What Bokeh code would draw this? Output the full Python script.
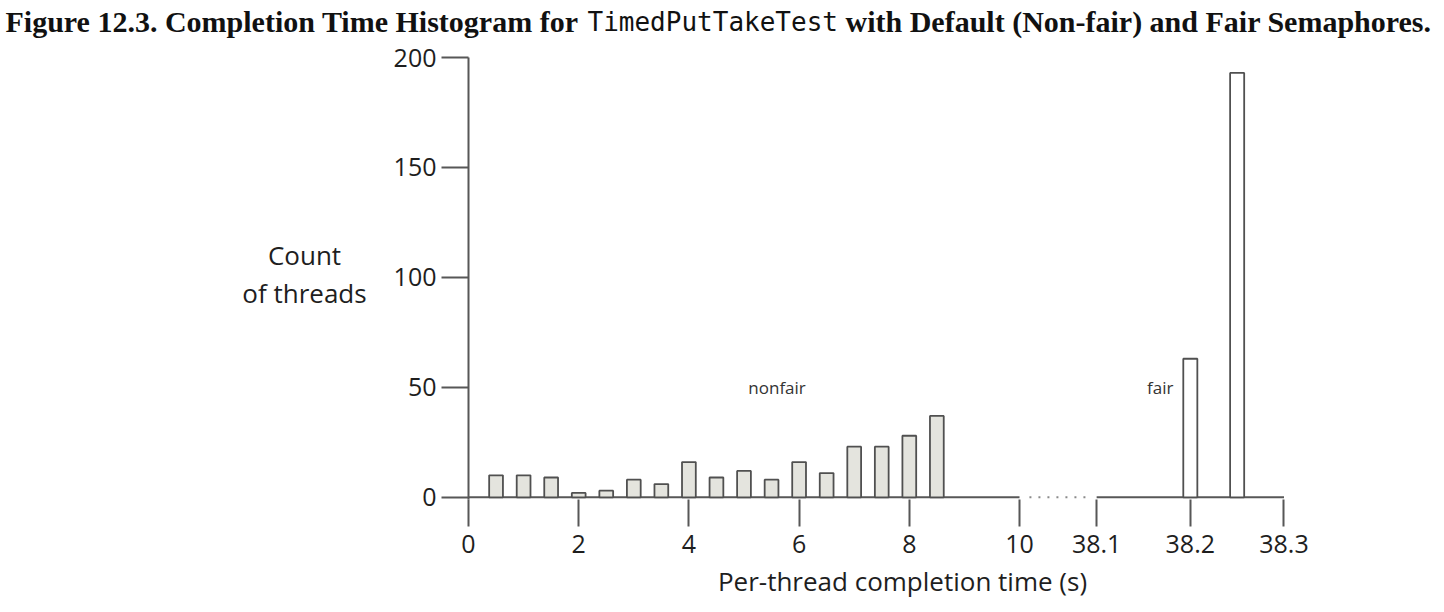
from bokeh.plotting import figure
from bokeh.models import Range1d, FixedTicker, Label
from bokeh.layouts import row
from bokeh.embed import file_html
from bokeh.resources import INLINE

# ---------------- data ----------------
nonfair_times = [0.5, 1.0, 1.5, 2.0, 2.5, 3.0, 3.5, 4.0, 4.5, 5.0, 5.5, 6.0, 6.5, 7.0, 7.5, 8.0, 8.5]
nonfair_counts = [10, 10, 9, 2, 3, 8, 6, 16, 9, 12, 8, 16, 11, 23, 23, 28, 37]
fair_times = [38.20, 38.25]
fair_counts = [63, 193]
nonfair_bin_width = 0.25
fair_bin_width = 0.015

y_ticks = [0, 50, 100, 150, 200]
x_ticks_low = [0, 2, 4, 6, 8, 10]
x_tick_labels_low = ["0", "2", "4", "6", "8", "10"]
x_ticks_high = [38.1, 38.2, 38.3]
x_tick_labels_high = ["38.1", "38.2", "38.3"]

title_parts = ["Figure 12.3. Completion Time Histogram for", "TimedPutTakeTest",
               "with Default (Non-fair) and Fair Semaphores."]
y_label_lines = ["Count", "of threads"]
x_label = "Per-thread completion time (s)"

# ---------------- broken x axis ----------------
LOW_END = 10.0
HIGH_START = 38.1
HIGH_END = 38.3
HIGH_OFFSET = 11.4   # axis position of 38.1
HIGH_SCALE = 17.0    # axis units per second in the high segment


def axis_pos(t):
    if t <= LOW_END:
        return t
    return round(HIGH_OFFSET + (t - HIGH_START) * HIGH_SCALE, 6)


AXIS_COLOR = "#575757"
BAR_LINE = "#505050"
TEXT_COLOR = "#1e1e1e"
SANS = "Open Sans"
W = 1444
TITLE_H = 39
MAIN_H = 612 - TITLE_H
LAB_W = 380
BORDER_TOP = 57 - TITLE_H
BORDER_BOTTOM = 113

# ---------------- title strip ----------------
t = figure(width=W, height=TITLE_H, output_backend="svg", toolbar_location=None,
           x_range=Range1d(0, W), y_range=Range1d(0, TITLE_H),
           min_border=0, x_axis_location=None, y_axis_location=None)
t.outline_line_color = None
t.grid.visible = False
TY = TITLE_H - 21
t.add_layout(Label(x=5, y=TY, text=title_parts[0], text_align="left", text_baseline="middle",
                   text_font="Liberation Serif", text_font_style="bold", text_font_size="30px",
                   text_color="#111111"))
t.add_layout(Label(x=587, y=TY, text=title_parts[1], text_align="left", text_baseline="middle",
                   text_font="DejaVu Sans Mono", text_font_size="26px", text_color="#111111"))
t.add_layout(Label(x=845, y=TY, text=title_parts[2], text_align="left", text_baseline="middle",
                   text_font="Liberation Serif", text_font_style="bold", text_font_size="30px",
                   text_color="#111111"))

# ---------------- main chart ----------------
y_range = Range1d(-1, 200)
p = figure(width=W - LAB_W, height=MAIN_H, output_backend="svg", toolbar_location=None,
           x_range=Range1d(0, 15.753), y_range=y_range,
           min_border_left=468 - LAB_W, min_border_right=108, min_border_top=BORDER_TOP,
           min_border_bottom=BORDER_BOTTOM)
p.outline_line_color = None
p.grid.visible = False

# y axis
p.yaxis.ticker = FixedTicker(ticks=y_ticks)
p.yaxis.axis_line_color = AXIS_COLOR
p.yaxis.axis_line_width = 2
p.yaxis.major_tick_line_color = AXIS_COLOR
p.yaxis.major_tick_line_width = 2
p.yaxis.major_tick_out = 27
p.yaxis.major_tick_in = 0
p.yaxis.minor_tick_line_color = None
p.yaxis.major_label_standoff = 5
p.yaxis.major_label_text_font = SANS
p.yaxis.major_label_text_font_size = "25px"
p.yaxis.major_label_text_color = TEXT_COLOR

# x axis (line drawn as broken baseline below)
tick_positions = [axis_pos(v) for v in x_ticks_low + x_ticks_high]
tick_labels = x_tick_labels_low + x_tick_labels_high
p.xaxis.ticker = FixedTicker(ticks=tick_positions)
p.xaxis.major_label_overrides = {pos: lab for pos, lab in zip(tick_positions, tick_labels)}
p.xaxis.axis_line_color = None
p.xaxis.major_tick_line_color = AXIS_COLOR
p.xaxis.major_tick_line_width = 2
p.xaxis.major_tick_out = 27
p.xaxis.major_tick_in = 0
p.xaxis.minor_tick_line_color = None
p.xaxis.major_label_standoff = 8
p.xaxis.major_label_text_font = SANS
p.xaxis.major_label_text_font_size = "25px"
p.xaxis.major_label_text_color = TEXT_COLOR
p.xaxis.axis_label = x_label
p.xaxis.axis_label_text_font = SANS
p.xaxis.axis_label_text_font_style = "normal"
p.xaxis.axis_label_text_font_size = "26px"
p.xaxis.axis_label_text_color = TEXT_COLOR
p.xaxis.axis_label_standoff = 7

# broken baseline
p.segment(x0=[axis_pos(0), axis_pos(HIGH_START)], y0=[0, 0],
          x1=[axis_pos(LOW_END), axis_pos(HIGH_END)], y1=[0, 0],
          line_color=AXIS_COLOR, line_width=2)
p.segment(x0=[axis_pos(LOW_END) + 0.18], y0=[0], x1=[axis_pos(HIGH_START) - 0.18], y1=[0],
          line_color="#8a8a8a", line_width=2, line_dash="2 7")

# bars
p.vbar(x=[axis_pos(v) for v in nonfair_times], top=nonfair_counts, bottom=0,
       width=nonfair_bin_width, fill_color="#e4e4de", line_color=BAR_LINE, line_width=1.8)
p.vbar(x=[axis_pos(v) for v in fair_times], top=fair_counts, bottom=0,
       width=fair_bin_width * HIGH_SCALE, fill_color="white", line_color=BAR_LINE, line_width=1.8)

# series annotations
p.add_layout(Label(x=axis_pos(5.6), y=50, text="nonfair", text_align="center", text_baseline="middle",
                   text_font=SANS, text_font_size="17px", text_font_style="normal", text_color="#333333"))
p.add_layout(Label(x=axis_pos(38.182), y=50, text="fair", text_align="right", text_baseline="middle",
                   text_font=SANS, text_font_size="17px", text_font_style="normal", text_color="#333333"))

# ---------------- y-axis label strip (two centred lines) ----------------
ylab = figure(width=LAB_W, height=MAIN_H, output_backend="svg", toolbar_location=None,
              x_range=Range1d(0, LAB_W), y_range=y_range,
              min_border_left=0, min_border_right=0, min_border_top=BORDER_TOP,
              min_border_bottom=BORDER_BOTTOM, x_axis_location=None, y_axis_location=None)
ylab.outline_line_color = None
ylab.grid.visible = False
ylab.add_layout(Label(x=304, y=110, text=y_label_lines[0], text_align="center", text_baseline="middle",
                      text_font=SANS, text_font_size="26px", text_color=TEXT_COLOR))
ylab.add_layout(Label(x=304, y=93, text=y_label_lines[1], text_align="center", text_baseline="middle",
                      text_font=SANS, text_font_size="26px", text_color=TEXT_COLOR))

open("out.html", "w").write(file_html([t, row(ylab, p, spacing=0)], INLINE))
